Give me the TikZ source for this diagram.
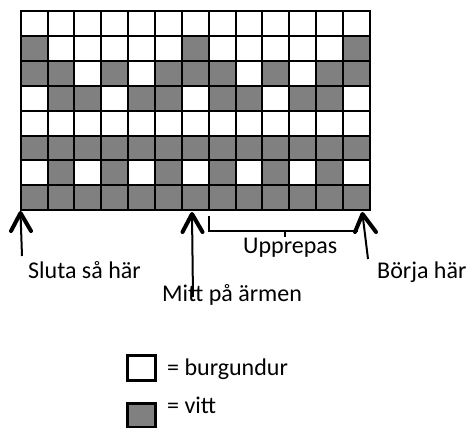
\documentclass[tikz,border=0pt]{standalone}
\usepackage{fontspec}
\setmainfont{Carlito}
\begin{document}
\begin{tikzpicture}[x=1pt,y=-1pt,
  cellw/.style={draw=black,line width=2pt,fill=white},
  cellg/.style={draw=black,line width=2pt,fill=gray50},
  shaft/.style={line width=2pt},
  headln/.style={line width=4pt,line cap=round,line join=round},
  brace/.style={line width=2pt},
  lbl/.style={font=\fontsize{24}{27}\selectfont,inner sep=0pt,anchor=base west},
  legbox/.style={draw=black,line width=3pt}]
\definecolor{gray50}{RGB}{128,128,128}
\useasboundingbox (0,0) rectangle (466,428);
% grid data: 1 = gray
\def\gl{20.7}\def\gt{11}\def\cw{26.86}\def\rh{24.9}
\foreach \row/\pat in {0/{0,0,0,0,0,0,0,0,0,0,0,0,0},
                       1/{1,0,0,0,0,0,1,0,0,0,0,0,1},
                       2/{1,1,0,1,0,1,1,1,0,1,0,1,1},
                       3/{0,1,1,0,1,1,0,1,1,0,1,1,0},
                       4/{0,0,0,0,0,0,0,0,0,0,0,0,0},
                       5/{1,1,1,1,1,1,1,1,1,1,1,1,1},
                       6/{0,1,0,1,0,1,0,1,0,1,0,1,0},
                       7/{1,1,1,1,1,1,1,1,1,1,1,1,1}}{
  \foreach \v [count=\c from 0] in \pat {
    \ifnum\v=1
      \filldraw[cellg] ({\gl+\c*\cw},{\gt+\row*\rh}) rectangle ++(\cw,\rh);
    \else
      \filldraw[cellw] ({\gl+\c*\cw},{\gt+\row*\rh}) rectangle ++(\cw,\rh);
    \fi
  }
}
% arrows
\coordinate (t1) at (20.5,213);
\coordinate (e1) at (22,256);
\coordinate (t2) at (192,214);
\coordinate (e2) at (193,297);
\coordinate (t3) at (362.5,214);
\coordinate (e3) at (368,259);
\draw[shaft] (e1) -- (t1);
\draw[headln] (11,231) -- (t1) -- (31,231);
\draw[shaft] (e2) -- (t2);
\draw[headln] (182.5,232) -- (t2) -- (202.5,232);
\draw[shaft] (e3) -- (t3);
\draw[headln] (355,232) -- (t3) -- (376,232);
% brace
\coordinate (b1) at (209.3,216);
\coordinate (b2) at (209.3,230.7);
\coordinate (b3) at (358,230.7);
\coordinate (bm) at (285,230.7);
\coordinate (bt) at (285,237);
\draw[brace] (b1) -- (b2) -- (b3);
\draw[brace] (bm) -- (bt);
% labels
\node[lbl] (upp) at (243,253) {Upprepas};
\node[lbl] (slu) at (28,278) {Sluta så här};
\node[lbl] (bor) at (377,278) {Börja här};
\node[lbl] (mit) at (162,301.5) {Mitt på ärmen};
% legend
\draw[legbox,fill=white] (127.3,355) rectangle (155.7,380.7);
\draw[legbox,fill=gray50] (127.3,403.5) rectangle (155.7,427);
\node[lbl] (burg) at (167,375) {= burgundur};
\node[lbl] (vitt) at (167,413) {= vitt};
\end{tikzpicture}
\end{document}
